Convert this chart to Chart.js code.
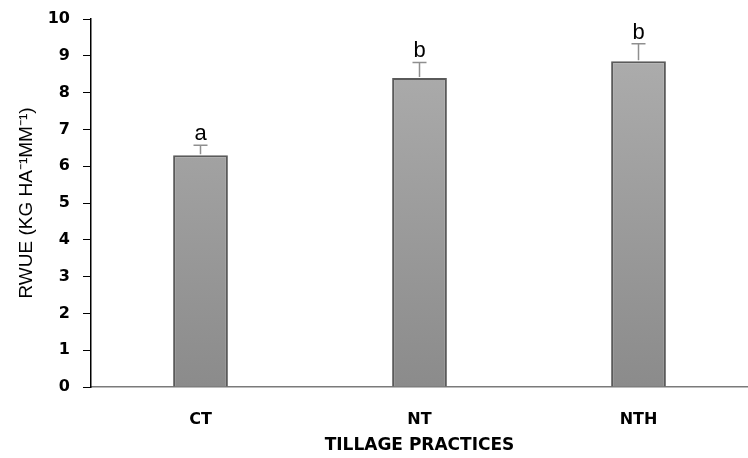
<!DOCTYPE html>
<html>
<head>
<meta charset="utf-8">
<script src="https://cdn.jsdelivr.net/npm/chart.js@4"></script>
<style>
  html, body { margin: 0; padding: 0; background: #fff; }
  #wrap { width: 748px; height: 458px; }
</style>
</head>
<body>
<div id="wrap"><canvas id="c" width="748" height="458"></canvas></div>
<script>
// Tillage practices and mean RWUE with standard error and significance letters
const categories = ['CT', 'NT', 'NTH'];
const rwue = [6.3, 8.4, 8.85];
const stdErr = [0.27, 0.42, 0.48];
const sigLetters = ['a', 'b', 'b'];
const yTicks = [0, 1, 2, 3, 4, 5, 6, 7, 8, 9, 10];

// Vertical grey gradient for the bars
function barFill(ctx) {
  const chart = ctx.chart;
  const area = chart.chartArea;
  if (!area) return '#9c9c9c';
  const y = chart.scales.y;
  const g = chart.ctx.createLinearGradient(0, y.getPixelForValue(9), 0, y.getPixelForValue(0));
  g.addColorStop(0, '#acacac');
  g.addColorStop(1, '#8b8b8b');
  return g;
}

// Error bars and letters placed from the data through the scales
const errorBarPlugin = {
  id: 'errorBars',
  afterDatasetsDraw(chart) {
    const { ctx, scales: { y } } = chart;
    const meta = chart.getDatasetMeta(0);
    ctx.save();
    meta.data.forEach((bar, i) => {
      const cx = bar.x;
      const yTop = y.getPixelForValue(rwue[i]);
      const yErr = y.getPixelForValue(rwue[i] + stdErr[i]);
      ctx.strokeStyle = '#8f8f8f';
      ctx.lineWidth = 1.5;
      ctx.beginPath();
      ctx.moveTo(cx, yTop - 1);
      ctx.lineTo(cx, yErr);
      ctx.moveTo(cx - 7, yErr);
      ctx.lineTo(cx + 7, yErr);
      ctx.stroke();
      ctx.fillStyle = '#000';
      ctx.font = '22px "Liberation Sans", Arial, sans-serif';
      ctx.textAlign = 'center';
      ctx.textBaseline = 'alphabetic';
      ctx.fillText(sigLetters[i], cx, yErr - 5);
    });
    ctx.restore();
  }
};

new Chart(document.getElementById('c'), {
  type: 'bar',
  data: {
    labels: categories,
    datasets: [{
      data: rwue,
      backgroundColor: barFill,
      borderColor: '#5a5a5a',
      borderWidth: 2,
      borderSkipped: 'bottom',
      categoryPercentage: 1.0,
      barPercentage: 0.25
    }]
  },
  options: {
    responsive: false,
    animation: false,
    layout: { padding: { top: 0, right: 0, left: 0, bottom: 0 } },
    plugins: { legend: { display: false }, tooltip: { enabled: false } },
    scales: {
      x: {
        grid: { display: false },
        border: { display: true, color: '#7a7a7a', width: 1.5 },
        ticks: {
          color: '#000',
          padding: 15,
          font: { family: '"DejaVu Sans", sans-serif', weight: 'bold', size: 16 }
        },
        title: {
          display: true,
          text: 'TILLAGE PRACTICES',
          color: '#000',
          padding: { top: 4, bottom: 2 },
          font: { family: '"DejaVu Sans", sans-serif', weight: 'bold', size: 17 }
        },
        afterFit(scale) { scale.height = 71; }
      },
      y: {
        min: 0,
        max: 10,
        afterBuildTicks(scale) { scale.ticks = yTicks.map(v => ({ value: v })); },
        grid: { drawOnChartArea: false, drawTicks: true, tickLength: 8, color: '#000' },
        border: { display: true, color: '#000', width: 1.5 },
        ticks: {
          color: '#000',
          padding: 13,
          font: { family: '"DejaVu Sans", sans-serif', weight: 'bold', size: 16, lineHeight: 0.75 }
        },
        title: {
          display: true,
          text: 'RWUE (KG HA\u207B\u00B9MM\u207B\u00B9)',
          color: '#000',
          padding: { top: 15, bottom: 0 },
          font: { family: '"Liberation Sans", Arial, sans-serif', size: 19 }
        },
        afterFit(scale) { scale.width = 91; }
      }
    }
  },
  plugins: [errorBarPlugin]
});
</script>
</body>
</html>
